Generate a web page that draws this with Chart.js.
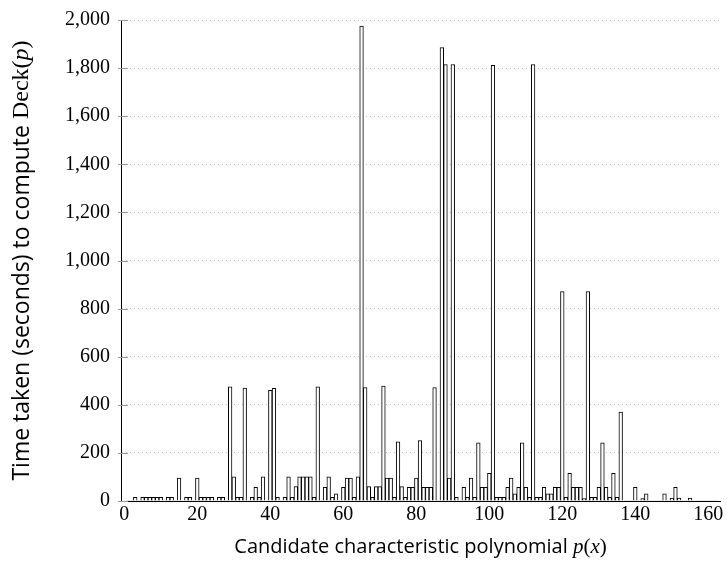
<!DOCTYPE html>
<html>
<head>
<meta charset="utf-8">
<script src="https://cdn.jsdelivr.net/npm/chart.js@4.4.1/dist/chart.umd.min.js"></script>
<style>
  html, body { margin: 0; padding: 0; background: #fff; }
  #chart { display: block; }
</style>
</head>
<body>
<canvas id="chart" width="727" height="562"></canvas>
<script>
// seconds taken per candidate polynomial, candidates numbered from 1
const seconds = [
    2, 2, 15, 2, 15, 15, 15, 15, 15, 15,
    2, 15, 15, 2, 95, 2, 15, 15, 2, 95,
    15, 15, 15, 15, 2, 15, 15, 2, 475, 100,
    15, 15, 470, 2, 15, 57, 15, 100, 2, 460,
    468, 15, 2, 15, 100, 15, 60, 100, 100, 100,
    100, 15, 475, 2, 57, 100, 15, 30, 2, 57,
    95, 95, 15, 100, 1975, 472, 60, 15, 60, 60,
    478, 95, 95, 15, 246, 60, 15, 57, 57, 95,
    251, 57, 57, 57, 472, 2, 1885, 1815, 95, 1815,
    15, 2, 57, 15, 95, 15, 242, 57, 57, 115,
    1812, 15, 15, 15, 57, 95, 30, 57, 242, 57,
    15, 1815, 15, 15, 57, 30, 30, 57, 57, 871,
    15, 115, 57, 57, 57, 10, 871, 15, 15, 57,
    242, 57, 15, 115, 15, 370, 2, 2, 2, 57,
    2, 10, 30, 2, 2, 2, 2, 30, 2, 12,
    57, 12, 2, 2, 12, 2, 2, 2, 2, 2,
    2, 2,
];
const candidateIds = seconds.map((_, i) => i + 1);

const xTicks = [0, 20, 40, 60, 80, 100, 120, 140, 160];
const yTicks = [0, 200, 400, 600, 800, 1000, 1200, 1400, 1600, 1800, 2000];

const xTitle = [
    { text: 'Candidate characteristic polynomial ', font: "20px 'Open Sans', sans-serif" },
    { text: 'p', font: "italic 21px 'Liberation Serif', serif" },
    { text: '(', font: "21px 'Liberation Serif', serif" },
    { text: 'x', font: "italic 21px 'Liberation Serif', serif" },
    { text: ')', font: "21px 'Liberation Serif', serif" },
];
const yTitle = [
    { text: 'Time taken (seconds) to compute ', font: "23px 'Open Sans', sans-serif" },
    { text: 'Deck(', font: "24px 'Liberation Serif', serif" },
    { text: 'p', font: "italic 24px 'Liberation Serif', serif" },
    { text: ')', font: "24px 'Liberation Serif', serif" },
];

const tickFont = { family: "'Liberation Serif', serif", size: 20 };

function drawRich(ctx, parts, cx, cy, angle) {
    ctx.save();
    ctx.translate(cx, cy);
    ctx.rotate(angle);
    let total = 0;
    for (const p of parts) {
        ctx.font = p.font;
        total += ctx.measureText(p.text).width;
    }
    let x = -total / 2;
    ctx.fillStyle = '#000';
    ctx.textBaseline = 'middle';
    ctx.textAlign = 'left';
    for (const p of parts) {
        ctx.font = p.font;
        ctx.fillText(p.text, x, 0);
        x += ctx.measureText(p.text).width;
    }
    ctx.restore();
}

const decorations = {
    id: 'decorations',
    afterDraw(chart) {
        const { ctx, chartArea, scales } = chart;
        // short grey tick marks across the y axis
        ctx.save();
        ctx.strokeStyle = '#999';
        ctx.lineWidth = 1;
        for (const v of yTicks) {
            const y = Math.round(scales.y.getPixelForValue(v)) + 0.5;
            ctx.beginPath();
            ctx.moveTo(chartArea.left - 3, y);
            ctx.lineTo(chartArea.left + 7, y);
            ctx.stroke();
        }
        ctx.restore();

        drawRich(ctx, xTitle, (chartArea.left + chartArea.right) / 2, 547, 0);
        drawRich(ctx, yTitle, 22, (chartArea.top + chartArea.bottom) / 2, -Math.PI / 2);
    },
};

new Chart(document.getElementById('chart'), {
    type: 'bar',
    data: {
        datasets: [{
            data: candidateIds.map((id, i) => ({ x: id, y: seconds[i] })),
            backgroundColor: '#fff',
            borderColor: '#000',
            borderWidth: 1,
            barPercentage: 1,
            categoryPercentage: 1,
        }],
    },
    options: {
        responsive: false,
        animation: false,
        devicePixelRatio: 1,
        layout: { padding: { top: 20, right: 7, left: 0, bottom: 0 } },
        plugins: {
            legend: { display: false },
            tooltip: { enabled: false },
        },
        scales: {
            x: {
                type: 'linear',
                offset: false,
                min: -0.9,
                max: 163.2,
                afterBuildTicks: s => { s.ticks = xTicks.map(v => ({ value: v })); },
                afterFit: s => { s.height = 61; s.paddingLeft = 0; s.paddingRight = 0; },
                ticks: {
                    color: '#000',
                    font: tickFont,
                    padding: 2,
                    maxRotation: 0,
                },
                grid: { display: false, drawTicks: false },
                border: { display: true, color: '#000', width: 1 },
            },
            y: {
                min: 0,
                max: 2000,
                afterBuildTicks: s => { s.ticks = yTicks.map(v => ({ value: v })); },
                afterFit: s => { s.width = 121; s.paddingTop = 0; s.paddingBottom = 0; },
                ticks: {
                    color: '#000',
                    font: tickFont,
                    padding: 11,
                    callback: v => v.toLocaleString('en-US'),
                },
                grid: {
                    color: '#c4c4c4',
                    lineWidth: 1,
                    drawTicks: false,
                },
                border: { display: true, color: '#000', width: 1, dash: [1, 3] },
            },
        },
    },
    plugins: [decorations],
});
</script>
</body>
</html>
